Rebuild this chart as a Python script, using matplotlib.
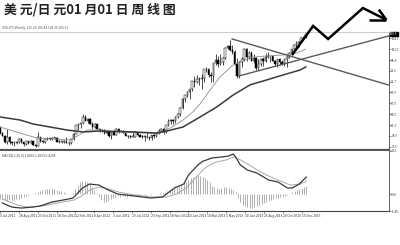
import matplotlib.pyplot as plt

plt.rcParams['font.family'] = ['Noto Sans CJK SC', 'DejaVu Sans']

# weekly USD/JPY candles, week 0 = 26 Jun 2011
opens = [80.2, 80.8, 80.6, 79.1, 78.4, 76.8, 78.3, 76.8, 76.6, 76.6,
         76.8, 77.6, 76.8, 76.3, 77.0, 76.7, 77.0, 76.1, 75.8, 78.2,
         77.0, 76.9, 77.7, 77.9, 77.6, 78.0, 78.0, 76.9, 76.9, 76.9,
         76.9, 76.7, 76.6, 77.6, 79.0, 81.2, 81.6, 81.8, 83.4, 82.4,
         82.8, 81.6, 80.9, 81.5, 80.3, 79.9, 79.9, 79.2, 79.6, 78.4,
         79.6, 78.7, 80.4, 79.8, 79.7, 79.2, 78.5, 78.4, 78.3, 78.3,
         79.6, 78.7, 78.3, 78.2, 78.3, 78.1, 77.9, 78.7, 78.4, 79.2,
         79.8, 80.4, 79.5, 81.2, 82.4, 82.5, 82.4, 83.5, 84.2, 85.9,
         88.1, 89.2, 90.0, 90.8, 92.8, 92.7, 93.5, 93.4, 93.6, 96.0,
         96.0, 94.5, 94.2, 97.6, 98.4, 97.5, 98.0, 99.0, 101.6, 102.2,
         101.0, 100.5, 97.5, 94.1, 97.8, 98.7, 101.2, 99.2, 100.4, 98.3,
         98.9, 96.2, 97.5, 98.7, 98.1, 99.1, 99.4, 99.4, 98.2, 97.5,
         98.6, 97.8, 97.4, 98.6, 99.1, 100.2, 101.3, 102.4, 102.9, 103.2,
         104.1, 104.4]
highs = [81.0, 81.4, 81.0, 79.6, 78.7, 80.2, 78.5, 77.2, 77.0, 77.1,
         77.8, 77.9, 76.9, 77.1, 77.2, 77.3, 77.2, 76.3, 79.5, 78.3,
         77.3, 77.8, 78.2, 78.0, 78.1, 78.1, 78.2, 77.4, 77.1, 77.3,
         78.3, 76.9, 77.7, 79.3, 81.2, 81.7, 81.9, 84.2, 84.0, 83.2,
         83.3, 82.0, 81.8, 81.7, 80.6, 80.2, 80.3, 79.8, 79.7, 79.8,
         80.1, 80.6, 80.6, 80.0, 79.9, 79.3, 78.6, 78.8, 79.1, 79.7,
         79.6, 78.9, 78.8, 78.7, 79.2, 78.2, 78.8, 78.9, 79.4, 80.3,
         80.6, 80.6, 81.2, 82.8, 82.8, 82.8, 83.6, 84.6, 86.0, 88.4,
         89.3, 90.2, 90.8, 92.9, 94.1, 94.5, 94.0, 94.8, 96.1, 96.7,
         96.1, 95.2, 97.7, 99.9, 99.4, 99.9, 99.2, 101.8, 102.3, 103.7,
         102.5, 101.1, 98.9, 98.1, 99.3, 101.5, 101.5, 100.9, 100.9, 100.0,
         99.2, 98.6, 98.9, 99.2, 100.2, 100.6, 99.6, 99.6, 98.5, 98.7,
         98.9, 98.5, 98.8, 99.6, 100.5, 101.4, 102.6, 103.4, 103.5, 104.6,
         104.6, 105.4]
lows = [79.8, 80.4, 79.0, 78.4, 76.6, 76.3, 76.3, 76.1, 75.9, 76.3,
        76.6, 76.6, 75.9, 76.1, 76.3, 76.5, 76.0, 75.6, 75.8, 76.9,
        76.7, 76.6, 77.3, 77.4, 77.5, 77.6, 76.8, 76.6, 76.5, 76.6,
        76.6, 76.0, 76.3, 77.4, 78.9, 79.9, 80.5, 81.7, 82.6, 81.8,
        81.5, 80.3, 80.6, 80.2, 79.6, 79.6, 79.0, 79.0, 78.2, 77.7,
        78.6, 78.6, 79.3, 79.4, 79.1, 78.5, 77.9, 77.9, 78.1, 78.2,
        78.5, 78.1, 77.9, 77.1, 78.0, 77.4, 77.5, 78.0, 78.2, 79.0,
        79.4, 79.0, 79.3, 81.0, 81.7, 81.7, 81.9, 83.2, 83.7, 85.6,
        87.5, 88.7, 88.1, 90.3, 91.4, 92.3, 91.9, 90.9, 92.6, 95.2,
        94.0, 92.6, 92.6, 97.0, 96.5, 97.2, 97.0, 98.8, 101.2, 100.7,
        100.0, 97.2, 93.8, 93.8, 96.7, 98.2, 98.3, 98.6, 98.2, 97.6,
        95.8, 95.9, 96.8, 96.8, 98.0, 98.9, 97.8, 98.2, 96.9, 96.6,
        97.2, 97.1, 96.9, 96.6, 98.9, 99.7, 100.7, 101.6, 101.9, 103.0,
        103.8, 104.2]
closes = [80.8, 80.6, 79.1, 78.4, 76.8, 78.3, 76.8, 76.6, 76.6, 76.8,
          77.6, 76.8, 76.3, 77.0, 76.7, 77.0, 76.1, 75.8, 78.2, 77.0,
          76.9, 77.7, 77.9, 77.6, 78.0, 78.0, 76.9, 76.9, 76.9, 76.9,
          76.7, 76.6, 77.6, 79.0, 81.2, 81.6, 81.8, 83.4, 82.4, 82.8,
          81.6, 80.9, 81.5, 80.3, 79.9, 79.9, 79.2, 79.6, 78.4, 79.6,
          78.7, 80.4, 79.8, 79.7, 79.2, 78.5, 78.4, 78.3, 78.3, 79.6,
          78.7, 78.3, 78.2, 78.3, 78.1, 77.9, 78.7, 78.4, 79.2, 79.8,
          80.4, 79.5, 81.2, 82.4, 82.5, 82.4, 83.5, 84.2, 85.9, 88.1,
          89.2, 90.0, 90.8, 92.8, 92.7, 93.5, 93.4, 93.6, 96.0, 96.0,
          94.5, 94.2, 97.6, 98.4, 97.5, 98.0, 99.0, 101.6, 102.2, 101.0,
          100.5, 97.5, 94.1, 97.8, 98.7, 101.2, 99.2, 100.4, 98.3, 98.9,
          96.2, 97.5, 98.7, 98.1, 99.1, 99.4, 99.4, 98.2, 97.5, 98.6,
          97.8, 97.4, 98.6, 99.1, 100.2, 101.3, 102.4, 102.9, 103.2, 104.1,
          104.4, 105.3]
weeks = list(range(len(closes)))

# moving averages
fast_wk = [2, 10.4, 17.6, 31.5, 34.5, 38.7, 44.2, 51.4, 65.3, 69.5, 73.7, 79.2,
           83.4, 86.4, 90.6, 94.8, 100.3, 103.2, 108.7, 114.6, 121.4, 127.3, 131]
fast_ma = [80.8, 79.2, 77.9, 77.4, 78.4, 80.0, 80.0, 79.5, 79.2, 79.2, 80.5, 82.65,
           84.8, 86.9, 90.5, 94.0, 97.1, 97.9, 99.2, 99.5, 99.75, 100.3, 101.3]
slow_wk = [2, 10.4, 15.9, 23.1, 30.3, 37, 44.2, 58.1, 68.2, 72.4, 79.2, 86.4,
           93.5, 100.3, 107.5, 114.6, 121.4, 128.6, 131]
slow_ma = [83.44, 82.65, 81.6, 80.8, 80.0, 79.5, 79.75, 79.5, 79.2, 79.75, 80.8, 83.44,
           86.1, 89.2, 91.9, 93.2, 94.5, 95.8, 96.6]

# hand-drawn lines
upper_line = ([99.9, 166.2], [103.96, 91.8])
lower_line = ([102.8, 166.2], [94.23, 104.8])
arrow_wk = [125.2, 134.1, 140.4, 155.1, 165.0]
arrow_px = [99.75, 107.4, 103.96, 112.1, 109.0]
head_a = ([157.5, 165.0], [109.0, 109.0])
head_b = ([161.8, 165.0], [111.7, 109.0])

# MACD panel
macd_wk = [2, 6, 10, 15, 18, 23, 30, 32, 36, 39, 43, 47, 51, 58, 65, 70, 75, 79, 81,
           85, 87, 91, 95, 98, 100, 101, 103, 106, 110, 115, 119, 123, 125, 128, 131]
macd_line = [-0.93, -1.37, -1.48, -1.37, -1.26, -0.83, -0.50, -0.39, 0.70, 1.13, 1.02,
             0.48, 0.04, -0.17, -0.39, -0.28, 0.70, 1.13, 2.11, 3.20, 3.6, 3.96, 4.07,
             4.17, 4.39, 4.07, 3.20, 2.65, 2.33, 1.57, 1.35, 0.70, 0.70, 1.13, 1.89]
sig_wk = [2, 8.3, 12.5, 18.9, 25.2, 32.4, 35.7, 39.1, 42.9, 47.1, 51.4, 58.1, 65.3,
          71.6, 75.8, 80.0, 84.3, 88.5, 92.7, 96.9, 100.3, 103.2, 107.5, 111.7,
          115.9, 120.1, 124.3, 128.6, 131]
sig_line = [-0.5, -1.15, -1.37, -1.26, -0.93, -0.61, -0.17, 0.48, 0.80, 0.59, 0.26,
            -0.07, -0.28, -0.28, 0.04, 0.70, 1.89, 2.98, 3.52, 3.74, 4.07, 3.74, 3.09,
            2.43, 1.89, 1.46, 1.02, 1.13, 1.46]
hist = [-0.5, -0.5,
        -0.5, -0.6, -0.7, -0.6, -0.7, -0.6, -0.5, -0.5, -0.4, -0.3,
        -0.2, -0.1, 0.0, 0.05,
        0.2, 0.3, 0.4, 0.5, 0.55, 0.6, 0.6, 0.6, 0.55, 0.5, 0.4, 0.35, 0.3, 0.2,
        0.1, 0.1, 0.2,
        0.6, 1.0, 1.3, 1.5, 1.5, 1.4, 1.1, 0.8, 0.5, 0.2,
        -0.3, -0.6, -0.8, -0.8, -0.7, -0.5,
        -0.4, -0.3, -0.2, -0.3, -0.2, -0.2, -0.3, -0.2, -0.2, -0.1, -0.2, -0.2,
        -0.1, -0.1, -0.1, 0.0, -0.1, 0.0, 0.1, 0.1, 0.2, 0.2,
        0.3, 0.4, 0.5, 0.6, 0.7, 0.8, 0.9, 1.0, 1.2, 1.4, 1.6, 1.8, 1.9, 2.0, 2.1, 2.0,
        1.9, 1.8, 1.6, 1.3,
        0.9, 0.8, 0.7, 0.6, 0.7, 0.8, 0.8, 0.7, 0.6, 0.5, 0.3,
        -0.4, -0.8, -1.1, -1.3, -1.4, -1.5, -1.5, -1.4, -1.3, -1.2, -1.0, -0.9, -0.8,
        -0.7, -0.6,
        -0.5, -0.4, -0.4, -0.3, -0.3, -0.2, -0.1,
        0.1, 0.3, 0.4, 0.5, 0.6, 0.7, 0.8, 0.9]

date_wk = [1, 9, 17, 25, 33, 41, 49, 57, 65, 73, 81, 89, 97, 105, 113, 121, 129]
date_labels = ['3 Jul 2011', '28 Aug 2011', '23 Oct 2011', '18 Dec 2011',
               '12 Feb 2012', '8 Apr 2012', '3 Jun 2012', '29 Jul 2012',
               '23 Sep 2012', '18 Nov 2012', '13 Jan 2013', '10 Mar 2013',
               '5 May 2013', '30 Jun 2013', '25 Aug 2013', '20 Oct 2013',
               '15 Dec 2013']
price_ticks = [104.1, 101.3, 98.4, 95.6, 92.7, 89.9, 87.0, 84.2,
               81.3, 78.5, 75.6]

fig = plt.figure(figsize=(4, 2.45), dpi=100)
ax1 = fig.add_axes([0, 1 - 150 / 245, 389 / 400, 118 / 245])
ax2 = fig.add_axes([0, 1 - 211 / 245, 389 / 400, 60 / 245])

# candles
ax1.vlines(weeks, lows, highs, color='black', lw=0.5, zorder=2)
for w, o, c in zip(weeks, opens, closes):
    up = c >= o
    ax1.bar(w, max(abs(c - o), 0.12), bottom=min(o, c), width=0.62,
            color='white' if up else 'black', edgecolor='black', lw=0.35, zorder=3)

ax1.plot(fast_wk, fast_ma, color='#8c8c8c', lw=0.6, zorder=4)
ax1.plot(slow_wk, slow_ma, color='#3a3a3a', lw=1.1, zorder=4)

ax1.plot(*upper_line, color='#5a5a5a', lw=1.0, zorder=5)
ax1.plot(*lower_line, color='#5a5a5a', lw=1.0, zorder=5)
for seg in [(arrow_wk, arrow_px), head_a, head_b]:
    ax1.plot(*seg, color='black', lw=1.8, clip_on=False, zorder=6,
             solid_joinstyle='miter', solid_capstyle='butt')

ax1.set_xlim(1.98, 166.1)
ax1.set_ylim(74.75, 105.8)
ax1.yaxis.tick_right()
ax1.set_yticks(price_ticks)
ax1.set_yticklabels([f'{t:.1f}' for t in price_ticks])
ax1.tick_params(axis='y', labelsize=2.2, length=1.2, width=0.4, pad=0.5, colors='#333')
ax1.set_xticks([])
ax1.text(1.003, 105.3, '105.3', transform=ax1.get_yaxis_transform(), fontsize=2.2,
         color='white', va='center', ha='left',
         bbox=dict(boxstyle='square,pad=0.12', fc='black', ec='black'))
ax1.spines['left'].set_visible(False)
ax1.spines['top'].set_color('#cccccc')
ax1.spines['top'].set_linewidth(0.8)
ax1.spines['right'].set_color('#444')
ax1.spines['right'].set_linewidth(0.6)
ax1.spines['bottom'].set_color('#555')
ax1.spines['bottom'].set_linewidth(1.6)

# MACD
ax2.vlines(weeks, 0, hist, color='#9a9a9a', lw=0.55)
ax2.plot(sig_wk, sig_line, color='#a8a8a8', lw=0.7)
ax2.plot(macd_wk, macd_line, color='#3a3a3a', lw=0.9)
ax2.set_xlim(1.98, 166.1)
ax2.set_ylim(-1.80, 4.72)
ax2.yaxis.tick_right()
ax2.set_yticks([4.72, 0.0, -1.80])
ax2.set_yticklabels(['4.72', '0.00', '-1.80'])
ax2.tick_params(axis='y', labelsize=2.2, length=1.2, width=0.4, pad=0.5, colors='#333')
ax2.set_xticks(date_wk)
ax2.set_xticklabels(date_labels, ha='left')
ax2.tick_params(axis='x', labelsize=2.4, length=1.2, width=0.4, pad=0.8, colors='#333')
ax2.spines['left'].set_visible(False)
ax2.spines['top'].set_visible(False)
ax2.spines['right'].set_color('#444')
ax2.spines['right'].set_linewidth(0.6)
ax2.spines['bottom'].set_color('#444')
ax2.spines['bottom'].set_linewidth(0.8)
ax2.text(0.004, 0.96, 'MACD(12,26,9) 1.8891 1.4593 0.4298', transform=ax2.transAxes,
         fontsize=2.3, color='#444', va='top')

fig.text(2 / 400, 1 - 28 / 245, 'USDJPY,Weekly  105.26 105.44 104.16 105.31',
         fontsize=2.3, color='#555', va='center')
fig.text(4 / 400, 1 - 9 / 245, '美 元/日 元01 月01 日 周 线 图', fontsize=9.3,
         fontweight='bold', color='#222', va='center')

fig.savefig('out.png', dpi=100)
